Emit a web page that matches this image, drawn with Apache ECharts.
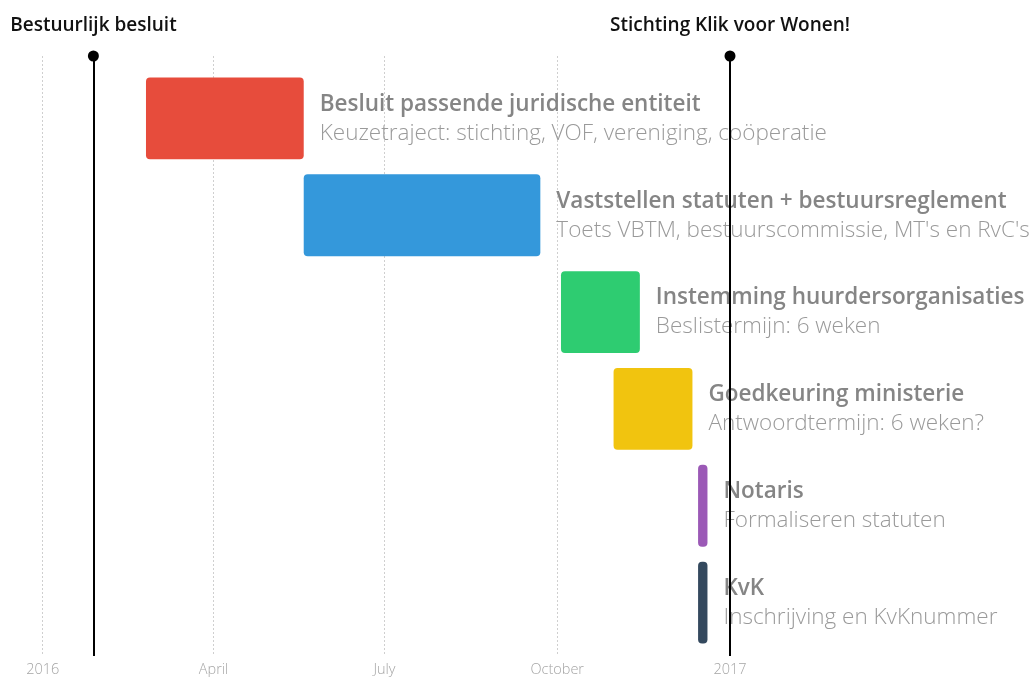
<!DOCTYPE html>
<html>
<head>
<meta charset="utf-8">
<script src="https://cdn.jsdelivr.net/npm/echarts@6/dist/echarts.min.js"></script>
<style>
  html, body { margin: 0; padding: 0; background: #fff; }
  #chart { width: 1035px; height: 677px; }
</style>
</head>
<body>
<div id="chart"></div>
<script>
// taken from the planning sheet
var taskTitles = [
  'Besluit passende juridische entiteit',
  'Vaststellen statuten + bestuursreglement',
  'Instemming huurdersorganisaties',
  'Goedkeuring ministerie',
  'Notaris',
  'KvK'
]
var taskNotes = [
  'Keuzetraject: stichting, VOF, vereniging, coöperatie',
  "Toets VBTM, bestuurscommissie, MT's en RvC's",
  'Beslistermijn: 6 weken',
  'Antwoordtermijn: 6 weken?',
  'Formaliseren statuten',
  'Inschrijving en KvKnummer'
]
var taskStart = ['2016-02-25', '2016-05-19', '2016-10-03', '2016-10-31', '2016-12-15', '2016-12-15']
var taskEnd = ['2016-05-19', '2016-09-22', '2016-11-14', '2016-12-12', '2016-12-20', '2016-12-20']
var taskColors = ['#e74c3c', '#3498db', '#2ecc71', '#f1c40f', '#9b59b6', '#34495e']

var milestoneNames = ['Bestuurlijk besluit', 'Stichting Klik voor Wonen!']
var milestoneDates = ['2016-01-28', '2017-01-01']

var monthNames = { 3: 'April', 6: 'July', 9: 'October' }

var FONT = '"Open Sans", "Noto Sans", sans-serif'

var chart = echarts.init(document.getElementById('chart'))

var rows = taskTitles.map(function (t, i) {
  return [taskStart[i], taskEnd[i], i]
})

function renderTask (params, api) {
  var i = api.value(2)
  var p0 = api.coord([api.value(0), i])
  var p1 = api.coord([api.value(1), i])
  var h = api.size([0, 1])[1] * 0.845
  var w = p1[0] - p0[0]
  var r = Math.min(4, w / 2)
  var tx = p1[0] + 16
  return {
    type: 'group',
    children: [
      {
        type: 'rect',
        shape: { x: p0[0], y: p0[1] - h / 2, width: w, height: h, r: r },
        style: { fill: taskColors[i] }
      },
      {
        type: 'text',
        style: {
          x: tx, y: p0[1] - 14,
          text: taskTitles[i],
          fill: '#858585',
          font: '600 22.5px ' + FONT,
          verticalAlign: 'middle'
        }
      },
      {
        type: 'text',
        style: {
          x: tx, y: p0[1] + 15,
          text: taskNotes[i],
          fill: '#9a9a9a',
          font: '300 22.5px ' + FONT,
          verticalAlign: 'middle'
        }
      }
    ]
  }
}

var xMin = '2016-01-01'
var xMax = '2017-01-01'

chart.setOption({
  animation: false,
  grid: [
    { left: 42.7, width: 687.3, top: 56, bottom: 17 },
    { left: 42.7, width: 687.3, top: 70, bottom: 26 }
  ],
  xAxis: [
    {
      type: 'time',
      gridIndex: 0,
      min: xMin,
      max: xMax,
      splitNumber: 4,
      axisLine: { show: false },
      axisTick: { show: false },
      axisLabel: {
        color: '#a5a5a5',
        fontFamily: FONT,
        fontWeight: 300,
        fontSize: 14.5,
        margin: 6,
        showMinLabel: true,
        showMaxLabel: true,
        formatter: function (value) {
          var d = new Date(value)
          var m = d.getMonth()
          return m === 0 ? String(d.getFullYear()) : (monthNames[m] || '')
        }
      },
      splitLine: {
        show: true,
        lineStyle: { color: '#cfcfcf', type: [2, 2], width: 1 }
      }
    },
    {
      type: 'time',
      gridIndex: 1,
      min: xMin,
      max: xMax,
      show: false
    }
  ],
  yAxis: [
    { type: 'value', gridIndex: 0, min: 0, max: 1, show: false },
    {
      type: 'category',
      gridIndex: 1,
      inverse: true,
      data: taskTitles,
      show: false
    }
  ],
  series: [
    {
      type: 'line',
      xAxisIndex: 0,
      yAxisIndex: 0,
      data: [],
      markLine: {
        silent: true,
        symbol: ['none', 'circle'],
        symbolSize: 11,
        lineStyle: { color: '#000', width: 2, type: 'solid' },
        label: {
          show: true,
          position: 'end',
          distance: 21,
          color: '#111',
          fontFamily: FONT,
          fontWeight: 600,
          fontSize: 19,
          formatter: '{b}'
        },
        data: milestoneDates.map(function (d, i) {
          return { name: milestoneNames[i], xAxis: d }
        })
      }
    },
    {
      type: 'custom',
      xAxisIndex: 1,
      yAxisIndex: 1,
      renderItem: renderTask,
      encode: { x: [0, 1], y: 2 },
      data: rows
    }
  ]
})
</script>
</body>
</html>
